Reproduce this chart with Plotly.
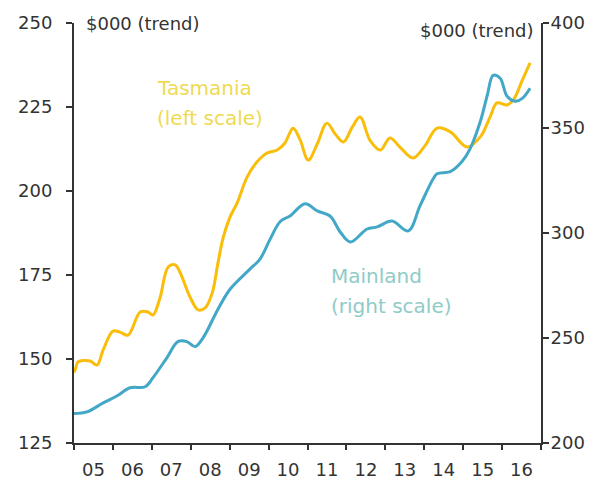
import plotly.graph_objects as go

# Data (decimal years)
tas_x = [2005.0, 2005.05, 2005.10, 2005.41, 2005.59, 2005.75, 2006.0, 2006.18, 2006.39, 2006.70,
         2006.90, 2007.03, 2007.21, 2007.42, 2007.60, 2007.72, 2007.98, 2008.19, 2008.37, 2008.55,
         2008.70, 2008.83, 2009.01, 2009.19, 2009.45, 2009.70, 2009.96, 2010.22, 2010.42, 2010.63,
         2010.81, 2011.02, 2011.25, 2011.50, 2011.71, 2011.92, 2012.15, 2012.35, 2012.61, 2012.87,
         2013.12, 2013.38, 2013.71, 2014.02, 2014.33, 2014.67, 2015.10, 2015.44, 2015.69, 2015.87,
         2016.13, 2016.29, 2016.52, 2016.72]
tas_y = [146.0, 147.5, 149.1, 149.4, 148.2, 152.7, 158.3, 158.0, 157.1, 164.0,
         164.0, 163.1, 168.2, 177.4, 178.0, 175.9, 168.5, 164.6, 165.2, 169.6,
         178.6, 186.0, 192.3, 196.4, 204.2, 208.6, 211.3, 212.2, 214.3, 218.7,
         215.2, 209.2, 214.0, 220.2, 217.0, 214.6, 219.0, 222.0, 215.0, 212.2,
         215.8, 213.0, 209.8, 213.5, 218.7, 217.6, 213.1, 216.1, 222.0, 226.2,
         225.6, 227.1, 233.0, 238.1]

main_x = [2005.0, 2005.33, 2005.75, 2006.11, 2006.44, 2006.83, 2007.03, 2007.39, 2007.67, 2007.90,
          2008.11, 2008.32, 2008.68, 2009.01, 2009.52, 2009.78, 2010.04, 2010.30, 2010.55, 2010.94,
          2011.25, 2011.58, 2011.84, 2012.10, 2012.53, 2012.79, 2013.17, 2013.59, 2013.89, 2014.23,
          2014.33, 2014.67, 2014.97, 2015.18, 2015.44, 2015.62, 2015.77, 2015.95, 2016.13, 2016.34,
          2016.52, 2016.72]
main_y = [214.0, 214.8, 219.1, 222.5, 226.3, 226.8, 231.1, 240.7, 248.3, 248.3,
          245.9, 250.2, 263.0, 273.2, 282.8, 287.6, 297.1, 305.5, 308.1, 313.9,
          310.5, 308.1, 300.5, 295.7, 301.9, 302.9, 305.7, 301.0, 312.9, 325.8,
          328.2, 329.2, 334.0, 340.2, 353.1, 365.6, 375.1, 373.7, 365.1, 362.7,
          364.1, 368.9]

year_ticks = [2005.5 + i for i in range(12)]
year_labels = ["05", "06", "07", "08", "09", "10", "11", "12", "13", "14", "15", "16"]
left_ticks = [125, 150, 175, 200, 225, 250]
right_ticks = [200, 250, 300, 350, 400]

YELLOW = "#F9BD0A"
BLUE = "#43A7C8"
AX = "#333333"
FONT = "DejaVu Sans"

fig = go.Figure()
fig.add_trace(go.Scatter(x=tas_x, y=tas_y, mode="lines", line=dict(color=YELLOW, width=3, shape="spline"),
                         yaxis="y", showlegend=False))
fig.add_trace(go.Scatter(x=main_x, y=main_y, mode="lines", line=dict(color=BLUE, width=3, shape="spline"),
                         yaxis="y2", showlegend=False))

fig.update_layout(
    width=598, height=480,
    margin=dict(l=66, r=65, t=15, b=45, autoexpand=False),
    paper_bgcolor="white", plot_bgcolor="white",
    font=dict(family=FONT, color=AX),
    xaxis=dict(range=[2005, 2017], tickvals=year_ticks, ticktext=year_labels, ticks="",
               showline=True, linecolor=AX, linewidth=2, showgrid=False, zeroline=False,
               tickfont=dict(size=18, color=AX), ticklabelstandoff=9, automargin=False,
               minor=dict(tickmode="linear", tick0=2005, dtick=1, ticks="outside", ticklen=5,
                          tickcolor=AX, tickwidth=2, showgrid=False)),
    yaxis=dict(range=[125, 250], tickvals=left_ticks, ticks="outside", ticklen=6, tickwidth=2,
               tickcolor=AX, showline=True, linecolor=AX, linewidth=2, showgrid=False,
               zeroline=False, tickfont=dict(size=18, color=AX), ticklabelstandoff=10,
               automargin=False),
    yaxis2=dict(range=[200, 400], tickvals=right_ticks, overlaying="y", side="right",
                ticks="outside", ticklen=6, tickwidth=2, tickcolor=AX, showline=True,
                linecolor=AX, linewidth=2, showgrid=False, zeroline=False,
                tickfont=dict(size=18, color=AX), ticklabelstandoff=-2, automargin=False),
)

fig.add_annotation(xref="paper", yref="paper", x=0.021, y=0.998, xanchor="left", yanchor="middle",
                   text="$000 (trend)", showarrow=False, font=dict(size=18, color=AX))
fig.add_annotation(xref="paper", yref="paper", x=0.99, y=0.983, xanchor="right", yanchor="middle",
                   text="$000 (trend)", showarrow=False, font=dict(size=18, color=AX))
fig.add_annotation(xref="x", yref="y", x=2007.08, y=230.6, xanchor="left", yanchor="middle",
                   text="Tasmania", showarrow=False, font=dict(size=20, color="#EFDA52"))
fig.add_annotation(xref="x", yref="y", x=2007.08, y=221.7, xanchor="left", yanchor="middle",
                   text="(left scale)", showarrow=False, font=dict(size=20, color="#EFDA52"))
fig.add_annotation(xref="x", yref="y2", x=2011.55, y=279.4, xanchor="left", yanchor="middle",
                   text="Mainland", showarrow=False, font=dict(size=20, color="#8FCBC7"))
fig.add_annotation(xref="x", yref="y2", x=2011.55, y=265.1, xanchor="left", yanchor="middle",
                   text="(right scale)", showarrow=False, font=dict(size=20, color="#8FCBC7"))

fig.write_html("out.html")
